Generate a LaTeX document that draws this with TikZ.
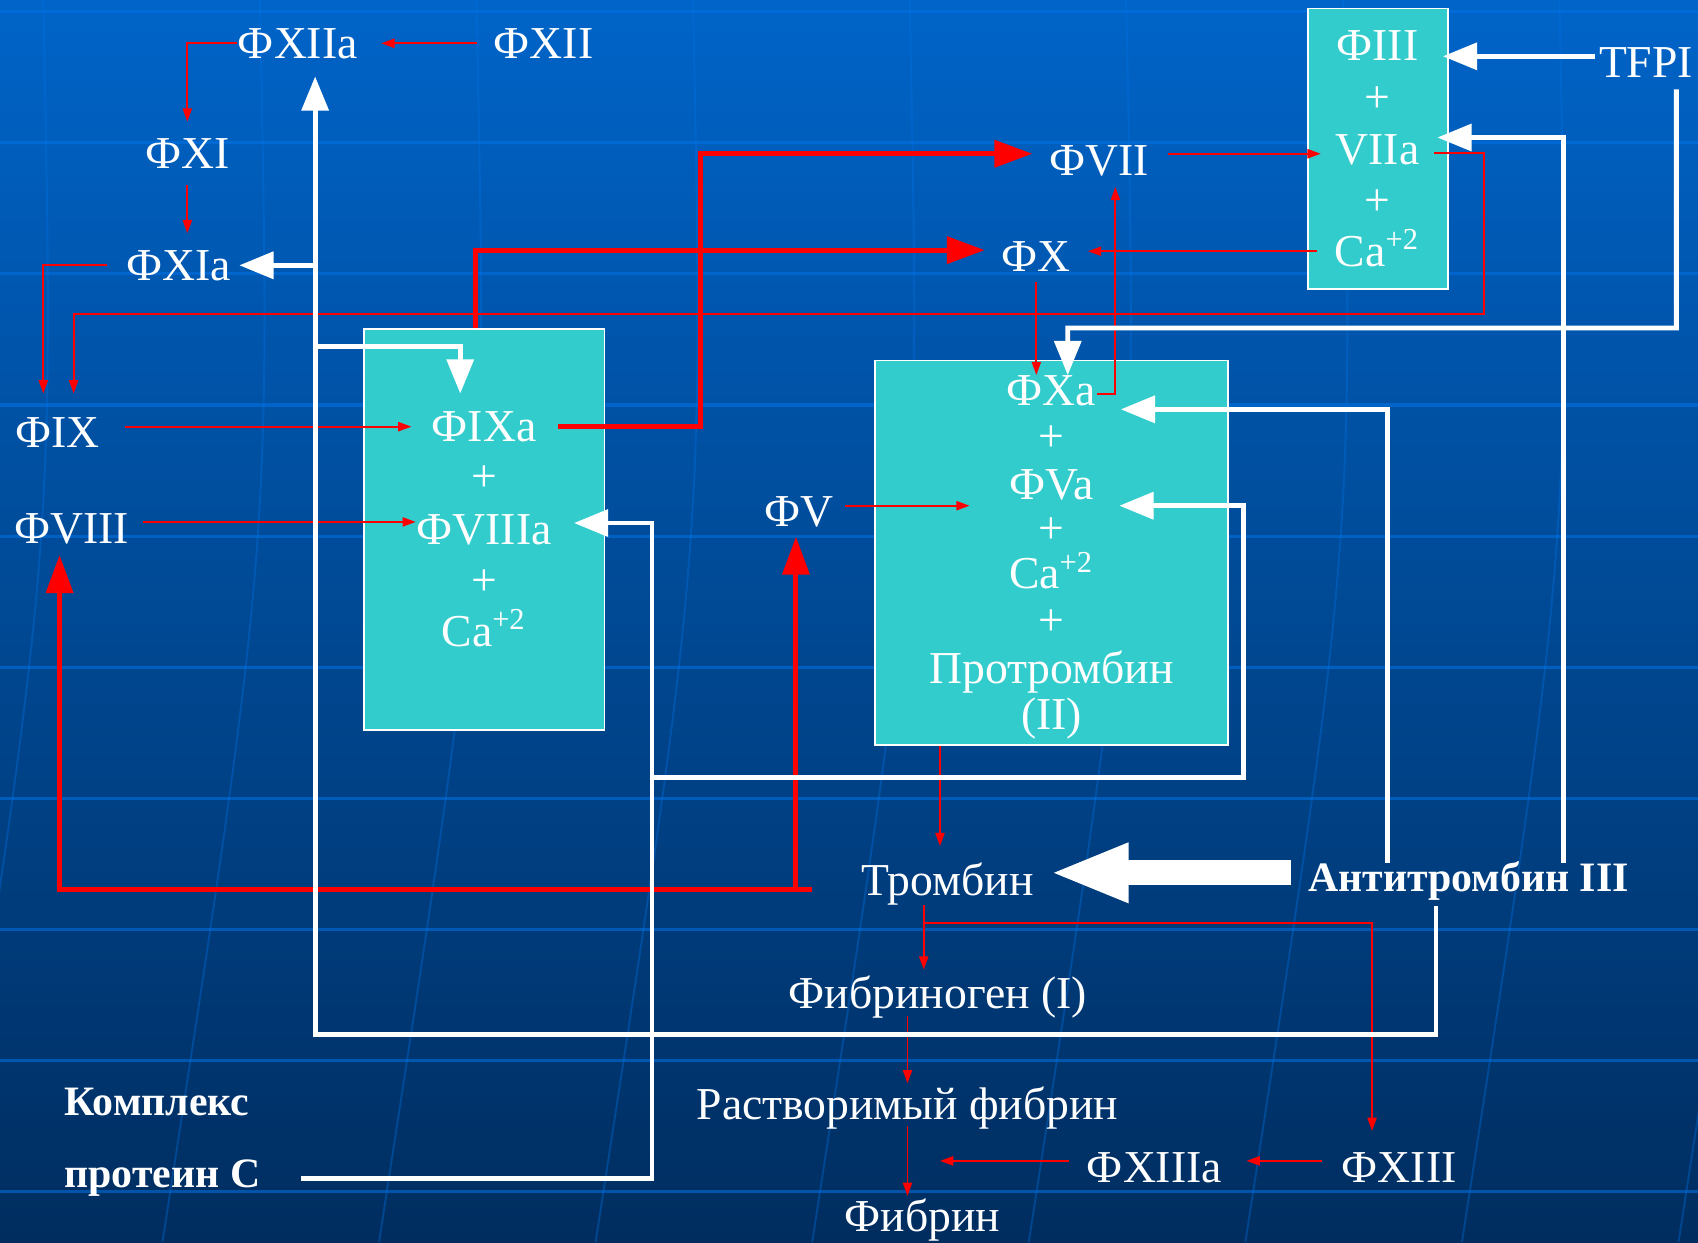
\documentclass[tikz,border=0pt]{standalone}
\usepackage{fontspec}
\setmainfont{Liberation Serif}
\usetikzlibrary{arrows.meta}
\definecolor{fondhaut}{RGB}{0,100,200}
\definecolor{fondbas}{RGB}{0,45,95}
\definecolor{grillecol}{RGB}{0,115,230}
\definecolor{turquoise}{RGB}{51,204,204}

\begin{document}
\begin{tikzpicture}[
    texte/.style={text=white, inner sep=0pt, text height=7.9pt, text depth=0pt, font=\fontsize{12}{14}\selectfont},
    gras/.style={texte, text height=7.3pt, font=\bfseries\fontsize{11}{13}\selectfont},
    boite/.style={draw=white, line width=0.4pt, fill=turquoise, inner sep=0pt},
    fin/.style={draw=red, line width=0.5pt, -{Triangle[length=3.5pt,width=2.4pt]}},
    rouge/.style={draw=red, line width=1.3pt, -{Triangle[length=10pt,width=7pt]}},
    blanc/.style={draw=white, line width=1.25pt, -{Triangle[length=9pt,width=7pt]}},
    grille/.style={draw=grillecol, line width=0.8pt, opacity=0.55},
    meridien/.style={draw=grillecol, line width=0.5pt, opacity=0.35}
  ]
        % Fond dégradé et quadrillage
        \useasboundingbox (0,0) rectangle (15.68,-11.47);
        \clip (0,0) rectangle (15.68,-11.47);
        \shade[top color=fondhaut, bottom color=fondbas] (0,0) rectangle (15.68,-11.47);
        \foreach \y in {0.11,1.32,2.53,3.74,4.95,6.16,7.37,8.58,9.79,11.00}
          \draw[grille] (0,-\y) -- (15.68,-\y);
        \foreach \x in {0.4,2.4,4.4,6.4,8.4,10.4,12.4,14.4,16.4}
          \draw[meridien] (\x,0) .. controls ({\x+0.1},-5) .. ({\x-0.9},-11.47);

        % Les trois complexes
        \node[boite, minimum width=2.22cm, minimum height=3.70cm] (boite1) at (4.47,-4.89) {};
        \node[boite, minimum width=3.26cm, minimum height=3.55cm] (boite2) at (9.71,-5.105) {};
        \node[boite, minimum width=1.29cm, minimum height=2.59cm] (boite3) at (12.725,-1.375) {};

        % Voie intrinsèque
        \node[texte] (fXIIa) at (2.75,-0.40) {ФXIIa};
        \node[texte] (fXII) at (5.02,-0.40) {ФXII};
        \node[texte] (fXI) at (1.73,-1.42) {ФXI};
        \node[texte] (fXIa) at (1.65,-2.45) {ФXIa};
        \node[texte] (fIX) at (0.53,-3.99) {ФIX};
        \node[texte] (fVIII) at (0.66,-4.88) {ФVIII};
        \node[texte] (fIXa) at (4.47,-3.94) {ФIXa};
        \node[texte] (plus1) at (4.47,-4.40) {+};
        \node[texte] (fVIIIa) at (4.47,-4.89) {ФVIIIa};
        \node[texte] (plus2) at (4.47,-5.36) {+};
        \node[texte] (ca1) at (4.47,-5.83) {Ca\textsuperscript{+2}};

        % Voie extrinsèque
        \node[texte] (fIII) at (12.72,-0.42) {ФIII};
        \node[texte] (plus6) at (12.72,-0.90) {+};
        \node[texte] (VIIa) at (12.72,-1.38) {VIIa};
        \node[texte] (plus7) at (12.72,-1.85) {+};
        \node[texte] (ca3) at (12.72,-2.32) {Ca\textsuperscript{+2}};
        \node[texte] (TFPI) at (15.20,-0.58) {TFPI};
        \node[texte] (fVII) at (10.15,-1.48) {ФVII};
        \node[texte] (fX) at (9.57,-2.37) {ФX};

        % Prothrombinase
        \node[texte] (fV) at (7.38,-4.72) {ФV};
        \node[texte] (fXa) at (9.71,-3.61) {ФXa};
        \node[texte] (plus3) at (9.71,-4.03) {+};
        \node[texte] (fVa) at (9.71,-4.47) {ФVa};
        \node[texte] (plus4) at (9.71,-4.88) {+};
        \node[texte] (ca2) at (9.71,-5.30) {Ca\textsuperscript{+2}};
        \node[texte] (plus5) at (9.71,-5.73) {+};
        \node[texte] (proth) at (9.71,-6.17) {Протромбин};
        \node[texte] (protII) at (9.71,-6.60) {(II)};

        % Voie commune
        \node[texte] (thromb) at (8.75,-8.13) {Тромбин};
        \node[gras] (anti) at (13.56,-8.10) {Антитромбин III};
        \node[texte] (fibrinog) at (8.66,-9.17) {Фибриноген (I)};
        \node[texte] (rastv) at (8.38,-10.20) {Растворимый фибрин};
        \node[texte] (fXIIIa) at (10.66,-10.78) {ФXIIIa};
        \node[texte] (fXIII) at (12.92,-10.78) {ФXIII};
        \node[texte] (fibrin) at (8.52,-11.23) {Фибрин};
        \node[gras] (kompl) at (1.45,-10.17) {Комплекс};
        \node[gras] (prot) at (1.50,-10.84) {протеин С};

        % Fines flèches rouges
        \draw[fin, shorten <=0.15cm, shorten >=0.21cm] (fXII.west) -- (fXIIa.east);
        \draw[fin, shorten >=0.15cm] (fXIIa.west) -| (fXI.north);
        \draw[fin, shorten <=0.14cm, shorten >=0.15cm] (fXI.south) -- (fXI.south |- fXIa.north);
        \draw[fin, shorten <=0.17cm, shorten >=0.21cm] (fXIa.west) -| ([xshift=-0.13cm]fIX.north);
        \coordinate (j5) at (13.70,-2.90);
        \draw[fin, shorten <=0.13cm, shorten >=0.21cm] ([yshift=-0.03cm]VIIa.east) -| (j5) -| ([xshift=0.15cm]fIX.north);
        \draw[fin, shorten <=0.23cm, shorten >=0.18cm] (fIX.east |- fIXa.west) -- (fIXa.west);
        \draw[fin, shorten <=0.12cm] ([yshift=0.06cm]fVIII.east) -- ([yshift=0.06cm]fVIII.east -| fVIIIa.west);
        \draw[fin, shorten <=0.10cm, shorten >=0.36cm] ([yshift=0.05cm]fV.east) -- ([yshift=0.05cm]fV.east -| fVa.west);
        \draw[fin, shorten <=0.17cm, shorten >=0.13cm] ([yshift=0.06cm]fVII.east) -- ([yshift=0.06cm]fVII.east -| VIIa.west);
        \draw[fin, shorten <=0.16cm, shorten >=0.15cm] (ca3.west) -- (ca3.west -| fX.east);
        \draw[fin, shorten <=0.09cm] (fX.south) -- (fX.south |- fXa.north);
        \draw[fin, shorten >=0.10cm] ([yshift=-0.03cm]fXa.east) -| ([xshift=0.15cm]fVII.south);
        \draw[fin, shorten >=0.17cm] ([xshift=-1.03cm]boite2.south) -- ([xshift=-1.03cm]boite2.south |- thromb.north);
        \draw[fin, shorten <=0.08cm, shorten >=0.07cm] ([xshift=-0.22cm]thromb.south) -- ([xshift=-0.22cm]thromb.south |- fibrinog.north);
        \coordinate (j14) at (8.53,-8.52);
        \draw[fin, shorten >=0.19cm] (j14) -| ([xshift=-0.25cm]fXIII.north);
        \draw[fin, shorten <=0.07cm, shorten >=0.05cm] (rastv.north |- fibrinog.south) -- (rastv.north);
        \draw[fin, shorten <=0.05cm, shorten >=0.04cm] (rastv.south) -- (rastv.south |- fibrin.north);
        \draw[fin, shorten <=0.18cm, shorten >=0.22cm] ([yshift=0.06cm]fXIII.west) -- ([yshift=0.06cm]fXIIIa.east);
        \draw[fin, shorten <=0.16cm, shorten >=0.30cm] ([yshift=0.06cm]fXIIIa.west) -- ([yshift=0.06cm]fXIIIa.west -| rastv.south);

        % Grosses flèches rouges
        \coordinate (cA) at (6.47,-2.50);
        \draw[rouge, shorten <=0.19cm, shorten >=0.15cm] (fIXa.east) -| (cA) |- ([yshift=0.06cm]fVII.west);
        \draw[rouge, shorten >=0.15cm] ([xshift=-0.08cm]boite1.north) |- ([yshift=0.06cm]fX.west);
        \draw[rouge, shorten <=0.45cm, shorten >=0.10cm] ([yshift=-0.08cm]thromb.west) -| ([xshift=-0.11cm]fVIII.south);
        \coordinate (jC) at (7.35,-8.21);
        \draw[rouge, shorten >=0.09cm] (jC) -- (jC |- fV.south);

        % Inhibiteurs (flèches blanches)
        \coordinate (w1) at (6.02,-7.18);
        \draw[blanc, shorten <=0.37cm, shorten >=0.20cm] ([yshift=-0.04cm]prot.east) -| (w1) |- ([yshift=0.06cm]fVIIIa.east);
        \coordinate (w1b) at (11.48,-6.00);
        \draw[blanc, shorten >=0.23cm] (w1) -| (w1b) |- ([yshift=-0.20cm]fVa.east);
        \coordinate (w2) at (2.91,-9.55);
        \draw[blanc, shorten <=0.13cm, shorten >=0.16cm] ([xshift=-0.30cm]anti.south) |- (w2) -- ([xshift=0.16cm]fXIIa.south);
        \draw[blanc, shorten >=0.07cm] (w2 |- fXIa.east) -- (fXIa.east);
        \coordinate (w2b) at (2.91,-3.20);
        \draw[blanc, shorten >=0.16cm] (w2b) -| ([xshift=-0.22cm]fIXa.north);
        \draw[white, line width=0.23cm, -{Triangle[length=0.73cm,width=0.5cm]}, shorten <=0.15cm, shorten >=0.14cm] ([yshift=0.04cm]anti.west) -- ([yshift=0.04cm]anti.west -| thromb.east);
        \draw[blanc, shorten >=0.22cm] ([xshift=-0.75cm]anti.north) |- ([yshift=-0.17cm]fXa.east);
        \draw[blanc, shorten >=0.16cm] ([xshift=0.88cm]anti.north) |- ([yshift=0.11cm]VIIa.east);
        \draw[blanc, shorten <=0.03cm, shorten >=0.22cm] ([yshift=0.06cm]TFPI.west) -- ([yshift=0.06cm]TFPI.west -| fIII.east);
        \coordinate (w7) at (15.48,-3.03);
        \draw[blanc, shorten <=0.10cm] ([xshift=0.28cm]TFPI.south) -- (w7) -| ([xshift=0.15cm]fXa.north);
\end{tikzpicture}
\end{document}
